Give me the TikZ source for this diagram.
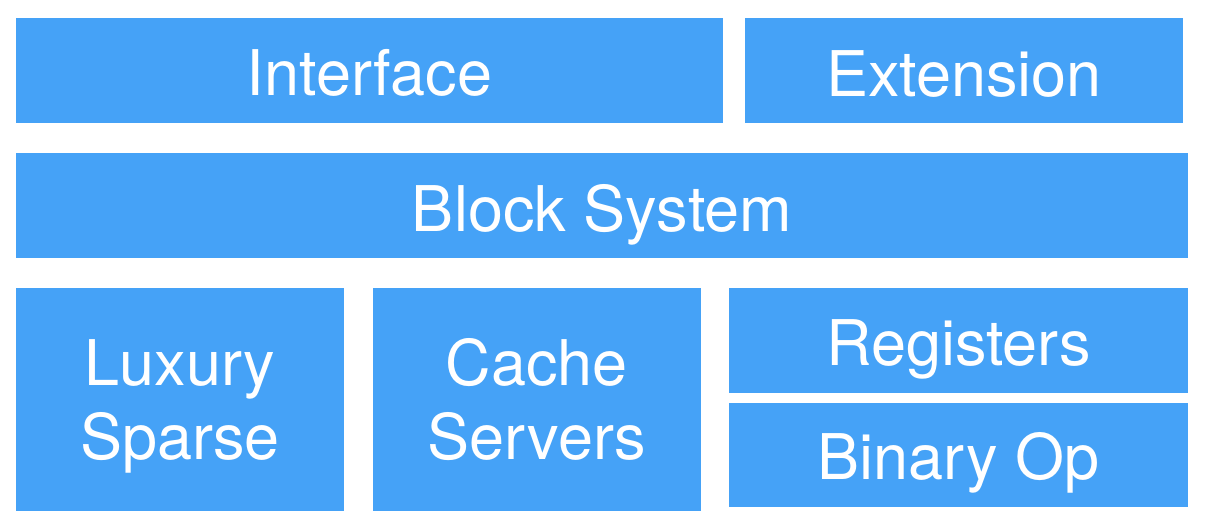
\documentclass[tikz,border=0pt]{standalone}
\usepackage{fontspec}
\setmainfont{TeX Gyre Heros}
\definecolor{boxblue}{HTML}{45A2F7}
\begin{document}
\begin{tikzpicture}[x=1pt,y=-1pt,
  blk/.style={fill=boxblue,draw=none,inner sep=0pt,outer sep=0pt,
    minimum width=#1},
  hbox/.style={minimum height=104.7pt},
  tbox/.style={minimum height=222.7pt},
  lbl/.style={text=white,inner sep=0pt,anchor=base,align=center,
    font=\fontsize{63}{74}\selectfont}]
\useasboundingbox (0,0) rectangle (1206,528);
% boxes
\node[blk=707pt,hbox] (iface) at (369.5,70.35) {};
\node[blk=438pt,hbox] (ext) at (964,70.35) {};
\node[blk=1172pt,hbox] (block) at (602,205.35) {};
\node[blk=328pt,tbox] (lux) at (180,399.35) {};
\node[blk=327.7pt,tbox] (cache) at (536.85,399.35) {};
\node[blk=459pt,hbox] (reg) at (958.5,340.35) {};
\node[blk=459pt,minimum height=104pt] (bin) at (958.5,455) {};
% labels
\node[lbl] (tiface) at (369.5,95.7) {Interface};
\node[lbl] (text) at (964,96) {Extension};
\node[lbl] (tblock) at (602,231.5) {Block System};
\node[lbl] (tlux) at (180,459) {Luxury\\Sparse};
\node[lbl] (tcache) at (536.85,459) {Cache\\Servers};
\node[lbl] (treg) at (958.5,365.7) {Registers};
\node[lbl] (tbin) at (958.5,479.3) {Binary Op};
\end{tikzpicture}
\end{document}
